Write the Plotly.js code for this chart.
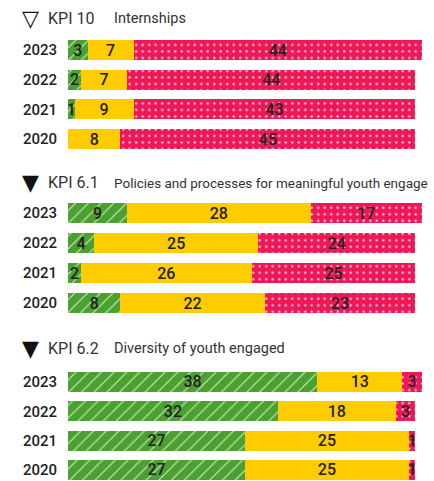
<!DOCTYPE html>
<html><head><meta charset="utf-8">
<script src="https://cdn.plot.ly/plotly-3.0.1.min.js"></script>
<style>body{margin:0;background:#fff}#c{width:434px;height:481px}</style>
</head><body><div id="c"></div>
<script>
const years = ['2023','2022','2021','2020'];
const kpi10_green = [3, 2, 1, 0];
const kpi10_yellow = [7, 7, 9, 8];
const kpi10_red = [44, 44, 43, 45];
const kpi61_green = [9, 4, 2, 8];
const kpi61_yellow = [28, 25, 26, 22];
const kpi61_red = [17, 24, 25, 23];
const kpi62_green = [38, 32, 27, 27];
const kpi62_yellow = [13, 18, 25, 25];
const kpi62_red = [3, 3, 1, 1];
const panelTitles = [['▽','KPI 10','Internships'],['▼','KPI 6.1','Policies and processes for meaningful youth engage'],['▼','KPI 6.2','Diversity of youth engaged']];

const FONT = 'Roboto, sans-serif';
const GREEN = '#4BA12F', YELLOW = '#FFCC00', RED = '#EE1858';
const H = 481;
const panels = [
  {g: kpi10_green, y: kpi10_yellow, r: kpi10_red},
  {g: kpi61_green, y: kpi61_yellow, r: kpi61_red},
  {g: kpi62_green, y: kpi62_yellow, r: kpi62_red}
];
const geo = [
  {top: 50, bot: 139, title: 18, ts: 14.5},
  {top: 213, bot: 303, title: 183, ts: 13.5},
  {top: 382, bot: 470, title: 348, ts: 14.5}
];
const traces = [];
const layout = {
  width: 434, height: 481,
  margin: {l: 68, r: 12, t: 0, b: 0},
  paper_bgcolor: '#fff', plot_bgcolor: '#fff',
  barmode: 'stack', bargap: 0.32, showlegend: false,
  font: {family: FONT, color: '#222'},
  uniformtext: {mode: 'show', minsize: 16},
  annotations: []
};
panels.forEach((p, i) => {
  const ax = i === 0 ? '' : String(i + 1);
  const yref = 'y' + ax;
  const mk = (vals, color, pattern) => ({
    type: 'bar', orientation: 'h', y: years, x: vals,
    xaxis: 'x' + ax, yaxis: yref,
    text: vals.map(v => v > 0 ? String(v) : ''),
    textposition: 'inside', insidetextanchor: 'middle', constraintext: 'none', textangle: 0,
    textfont: {family: FONT, size: 16, color: '#222', weight: 500},
    marker: {color: color, line: {width: 0}, pattern: pattern},
    hoverinfo: 'skip'
  });
  traces.push(mk(p.g, GREEN, {shape: '/', fgcolor: 'rgba(255,255,255,0.75)', bgcolor: GREEN, size: 9, solidity: 0.12}));
  traces.push(mk(p.y, YELLOW, {shape: ''}));
  traces.push(mk(p.r, RED, {shape: '.', fgcolor: 'rgba(255,255,255,0.85)', bgcolor: RED, size: 6.5, solidity: 0.09}));
  const g = geo[i];
  const step = (g.bot - g.top) / 3;
  const pxTop = g.top - step * 0.5, pxBot = Math.min(H, g.bot + step * 0.5);
  const rLow = -(pxBot - g.bot) / step, rHigh = 3 + (g.top - pxTop) / step;
  layout['yaxis' + ax] = {
    domain: [(H - pxBot) / H, (H - pxTop) / H],
    type: 'category', categoryorder: 'array', categoryarray: ['2020','2021','2022','2023'],
    range: [rLow, rHigh], showgrid: false, zeroline: false, showline: false,
    ticks: '', ticklabelstandoff: 10,
    tickfont: {family: FONT, size: 15, color: '#222', weight: 500}, fixedrange: true
  };
  layout['xaxis' + ax] = {
    anchor: yref, range: [0, 54], visible: false, showgrid: false, zeroline: false, fixedrange: true
  };
  const t = panelTitles[i];
  const yt = (H - g.title) / H;
  layout.annotations.push({xref: 'paper', yref: 'paper', x: -48/354, y: yt, xanchor: 'left', yanchor: 'middle',
    text: t[0], showarrow: false, font: {family: 'DejaVu Sans, sans-serif', size: 22, color: '#111'}});
  layout.annotations.push({xref: 'paper', yref: 'paper', x: -22/354, y: yt, xanchor: 'left', yanchor: 'middle',
    text: t[1], showarrow: false, font: {family: FONT, size: 16, color: '#333'}});
  layout.annotations.push({xref: 'paper', yref: 'paper', x: 44/354, y: yt, xanchor: 'left', yanchor: 'middle',
    text: t[2], showarrow: false, font: {family: FONT, size: g.ts, color: '#333'}});
});
Plotly.newPlot('c', traces, layout, {displayModeBar: false, staticPlot: true});
</script></body></html>
